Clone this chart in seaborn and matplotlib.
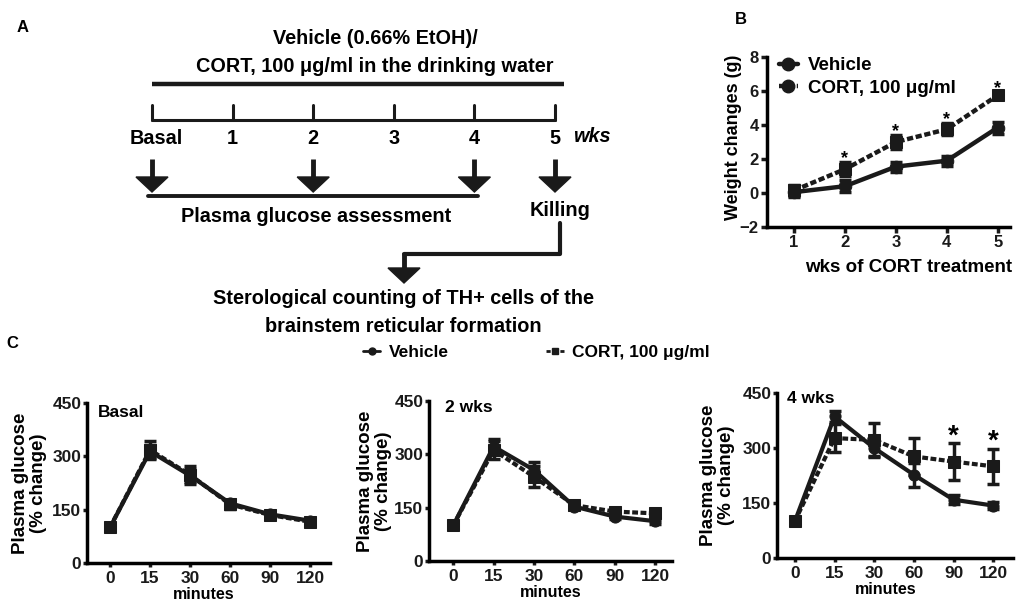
import numpy as np
import pandas as pd
import seaborn as sns
import matplotlib.pyplot as plt
from matplotlib import font_manager
from matplotlib.lines import Line2D
from matplotlib.patches import Polygon

# ---------------- data ----------------
# panel B: weight change over CORT treatment
weeks = [1, 2, 3, 4, 5]
wt_vehicle = [0.05, 0.4, 1.55, 1.9, 3.85]
wt_vehicle_err = [0.3, 0.35, 0.3, 0.3, 0.35]
wt_cort = [0.15, 1.4, 3.0, 3.75, 5.75]
wt_cort_err = [0.3, 0.4, 0.4, 0.35, 0.2]
wt_sig = [False, True, True, True, True]

# panel C: glucose tolerance (% change)
minutes = ['0', '15', '30', '60', '90', '120']
basal_vehicle = [100, 314, 246, 168, 137, 119]
basal_vehicle_err = [6, 18, 18, 10, 8, 8]
basal_cort = [100, 318, 248, 165, 135, 116]
basal_cort_err = [6, 25, 25, 12, 10, 10]
basal_sig = [False] * 6

wk2_vehicle = [100, 322, 256, 153, 125, 112]
wk2_vehicle_err = [5, 20, 22, 8, 8, 8]
wk2_cort = [100, 312, 237, 157, 139, 134]
wk2_cort_err = [5, 25, 30, 8, 10, 10]
wk2_sig = [False] * 6

wk4_vehicle = [100, 386, 300, 227, 159, 143]
wk4_vehicle_err = [6, 15, 25, 33, 12, 10]
wk4_cort = [100, 327, 322, 277, 263, 250]
wk4_cort_err = [6, 38, 45, 50, 50, 47]
wk4_sig = [False, False, False, False, True, True]

# panel A: timeline
timeline_labels = ['Basal', '1', '2', '3', '4', '5']
glucose_points = [0, 2, 4]   # time points with glucose assessment
kill_point = 5

# ---------------- style ----------------
sns.set_theme(style='ticks')
plt.rcParams['font.family'] = ['Liberation Sans', 'DejaVu Sans']
plt.rcParams['font.weight'] = 'bold'
plt.rcParams['axes.labelweight'] = 'bold'
plt.rcParams['axes.linewidth'] = 2.5
plt.rcParams['axes.edgecolor'] = 'black'
plt.rcParams['text.color'] = 'black'
plt.rcParams['axes.labelcolor'] = 'black'

names = {f.name for f in font_manager.fontManager.ttflist}
if 'Liberation Sans Narrow' in names:
    a_family, a_size = ['Liberation Sans Narrow', 'DejaVu Sans'], 16
else:
    a_family, a_size = ['Liberation Sans', 'DejaVu Sans'], 14.3

fig = plt.figure(figsize=(10.21, 6.04), dpi=100)

# overlay in pixel coords for the schematic and the panel letters
ax0 = fig.add_axes([0, 0, 1, 1])
ax0.set_xlim(0, 1021)
ax0.set_ylim(604, 0)
ax0.axis('off')


def down_arrow(ax, x, y_top, y_head, y_tip, half=16):
    ax.plot([x, x], [y_top, y_head + 2], color='k', lw=3.5, solid_capstyle='butt')
    ax.add_patch(Polygon([(x - half, y_head), (x + half, y_head), (x, y_tip)],
                         closed=True, color='k'))


# ---------------- panel A ----------------
ax0.text(23, 27, 'A', fontsize=12, ha='center', va='center')
ax0.text(375, 39, 'Vehicle (0.66% EtOH)/', family=a_family, fontsize=a_size,
         ha='center', va='center')
ax0.text(375, 66, 'CORT, 100 μg/ml in the drinking water', family=a_family,
         fontsize=a_size, ha='center', va='center')
ax0.plot([152, 564], [84, 84], color='k', lw=3.2, solid_capstyle='butt')

tl_x0, tl_step = 152, 80.6
tick_x = [tl_x0 + i * tl_step for i in range(len(timeline_labels))]
ax0.plot([tick_x[0], tick_x[-1]], [120, 120], color='k', lw=2.2)
for x, lab in zip(tick_x, timeline_labels):
    ax0.plot([x, x], [105, 120], color='k', lw=2.2)
    ax0.text(x + (4 if lab == 'Basal' else 0), 138, lab, family=a_family,
             fontsize=a_size, ha='center', va='center')
ax0.text(592, 136, 'wks', family=a_family, fontsize=a_size, style='italic',
         ha='center', va='center')

for i in glucose_points + [kill_point]:
    down_arrow(ax0, tick_x[i], 159, 177, 192)
ax0.plot([148, 478], [196, 196], color='k', lw=2.8)
ax0.text(316, 217, 'Plasma glucose assessment', family=a_family, fontsize=a_size,
         ha='center', va='center')
ax0.text(560, 210, 'Killing', family=a_family, fontsize=a_size,
         ha='center', va='center')
ax0.plot([560, 560, 404], [223, 254, 254], color='k', lw=3)
down_arrow(ax0, 404, 254, 268, 283)
ax0.text(403, 298, 'Sterological counting of TH+ cells of the', family=a_family,
         fontsize=a_size, ha='center', va='center')
ax0.text(403, 326, 'brainstem reticular formation', family=a_family,
         fontsize=a_size, ha='center', va='center')

# ---------------- panel B ----------------
ax0.text(741, 20, 'B', fontsize=12, ha='center', va='center')
axB = fig.add_axes([767 / 1021, 1 - 227 / 604, 243 / 1021, 170 / 604])
df_wt = pd.DataFrame({'week': weeks, 'vehicle': wt_vehicle, 'cort': wt_cort})
sns.lineplot(data=df_wt, x='week', y='cort', color='k', marker='s', ms=9,
             mec='k', lw=3.2, linestyle=(0, (1.4, 0.6)), errorbar=None, ax=axB)
sns.lineplot(data=df_wt, x='week', y='vehicle', color='k', marker='o', ms=9,
             mec='k', lw=3.2, errorbar=None, ax=axB)
axB.errorbar(weeks, wt_cort, yerr=wt_cort_err, fmt='none', ecolor='k',
             elinewidth=2.5, capsize=4, capthick=2.5)
axB.errorbar(weeks, wt_vehicle, yerr=wt_vehicle_err, fmt='none', ecolor='k',
             elinewidth=2.5, capsize=4, capthick=2.5)
for w, m, e, s in zip(weeks, wt_cort, wt_cort_err, wt_sig):
    if s:
        axB.text(w, m + e - 0.05, '*', fontsize=13, ha='center', va='baseline')
axB.set_xlim(0.47, 5.24)
axB.set_ylim(-2, 8)
axB.set_xticks(weeks)
axB.set_yticks([-2, 0, 2, 4, 6, 8])
axB.tick_params(width=2.5, length=4, pad=2, labelsize=12, colors='k')
axB.set_xlabel('wks of CORT treatment', fontsize=13.5)
axB.set_ylabel('Weight changes (g)', fontsize=13)
axB.xaxis.set_label_coords(0.584, -0.187)
axB.yaxis.set_label_coords(-0.103, 0.53)
sns.despine(ax=axB)
hB = [Line2D([], [], color='k', marker='o', ms=9, lw=3.2),
      Line2D([], [], color='k', marker='o', ms=9, lw=3.2, ls=(0, (1.4, 0.6)))]
axB.legend(hB, ['Vehicle', 'CORT, 100 μg/ml'], loc='upper left',
           bbox_to_anchor=(779 / 1021, 1 - 57 / 604), bbox_transform=fig.transFigure,
           frameon=False, fontsize=13.5, handlelength=1.0, handletextpad=0.55,
           labelspacing=0.3, borderpad=0, borderaxespad=0)

# ---------------- panel C ----------------
ax0.text(12, 343, 'C', fontsize=12, ha='center', va='center')


def glucose_panel(rect, veh, veh_err, cort, cort_err, sig, tag, tag_xy, xlim,
                  ylab_x, xlab_xy):
    ax = fig.add_axes(rect)
    pos = np.arange(len(minutes))
    df = pd.DataFrame({'pos': pos, 'vehicle': veh, 'cort': cort})
    sns.lineplot(data=df, x='pos', y='cort', color='k', marker='s', ms=8,
                 mec='k', lw=3, linestyle=(0, (1.4, 0.6)), errorbar=None, ax=ax)
    sns.lineplot(data=df, x='pos', y='vehicle', color='k', marker='o', ms=8,
                 mec='k', lw=3, errorbar=None, ax=ax)
    ax.errorbar(pos, cort, yerr=cort_err, fmt='none', ecolor='k',
                elinewidth=2.5, capsize=4, capthick=2.5)
    ax.errorbar(pos, veh, yerr=veh_err, fmt='none', ecolor='k',
                elinewidth=2.5, capsize=4, capthick=2.5)
    for p, m, e, s in zip(pos, cort, cort_err, sig):
        if s:
            ax.text(p, m + e, '*', fontsize=20, ha='center', va='baseline')
    ax.set_xlim(*xlim)
    ax.set_ylim(0, 450)
    ax.set_xticks(pos, minutes)
    ax.set_yticks([0, 150, 300, 450])
    ax.tick_params(axis='y', width=2.5, length=3, pad=1)
    ax.tick_params(axis='x', width=2.5, length=3, pad=2.5)
    ax.tick_params(labelsize=12.5, colors='k')
    ax.set_xlabel('minutes', fontsize=11.5)
    ax.set_ylabel('Plasma glucose\n(% change)', fontsize=13.5, linespacing=1.05)
    ax.xaxis.set_label_coords(*xlab_xy)
    ax.yaxis.set_label_coords(ylab_x, 0.5)
    ax.text(tag_xy[0], tag_xy[1], tag, transform=ax.transAxes, fontsize=12.5,
            ha='left', va='center')
    sns.despine(ax=ax)
    return ax


glucose_panel([87 / 1021, 1 - 563 / 604, 243 / 1021, 160 / 604],
              basal_vehicle, basal_vehicle_err, basal_cort, basal_cort_err,
              basal_sig, 'Basal', (0.045, 0.943), (-0.575, 5.5), -0.165,
              (0.48, -0.153))
glucose_panel([429 / 1021, 1 - 561 / 604, 243 / 1021, 160 / 604],
              wk2_vehicle, wk2_vehicle_err, wk2_cort, wk2_cort_err,
              wk2_sig, '2 wks', (0.066, 0.9625), (-0.6, 5.42), -0.152,
              (0.5, -0.153))
glucose_panel([777 / 1021, 1 - 558 / 604, 236 / 1021, 165 / 604],
              wk4_vehicle, wk4_vehicle_err, wk4_cort, wk4_cort_err,
              wk4_sig, '4 wks', (0.042, 0.964), (-0.45, 5.5), -0.178,
              (0.46, -0.145))

hC = [Line2D([], [], color='k', marker='o', ms=5, lw=2),
      Line2D([], [], color='k', marker='s', ms=5, lw=2, ls=(0, (1.5, 1)))]
fig.legend(hC, ['Vehicle', 'CORT, 100 μg/ml'], loc='center left',
           bbox_to_anchor=(363 / 1021, 1 - 352 / 604), ncol=2, frameon=False,
           fontsize=12.5, handlelength=1.0, handletextpad=0.5,
           columnspacing=5.6, borderpad=0, borderaxespad=0)

fig.savefig('out.png', dpi=100)
